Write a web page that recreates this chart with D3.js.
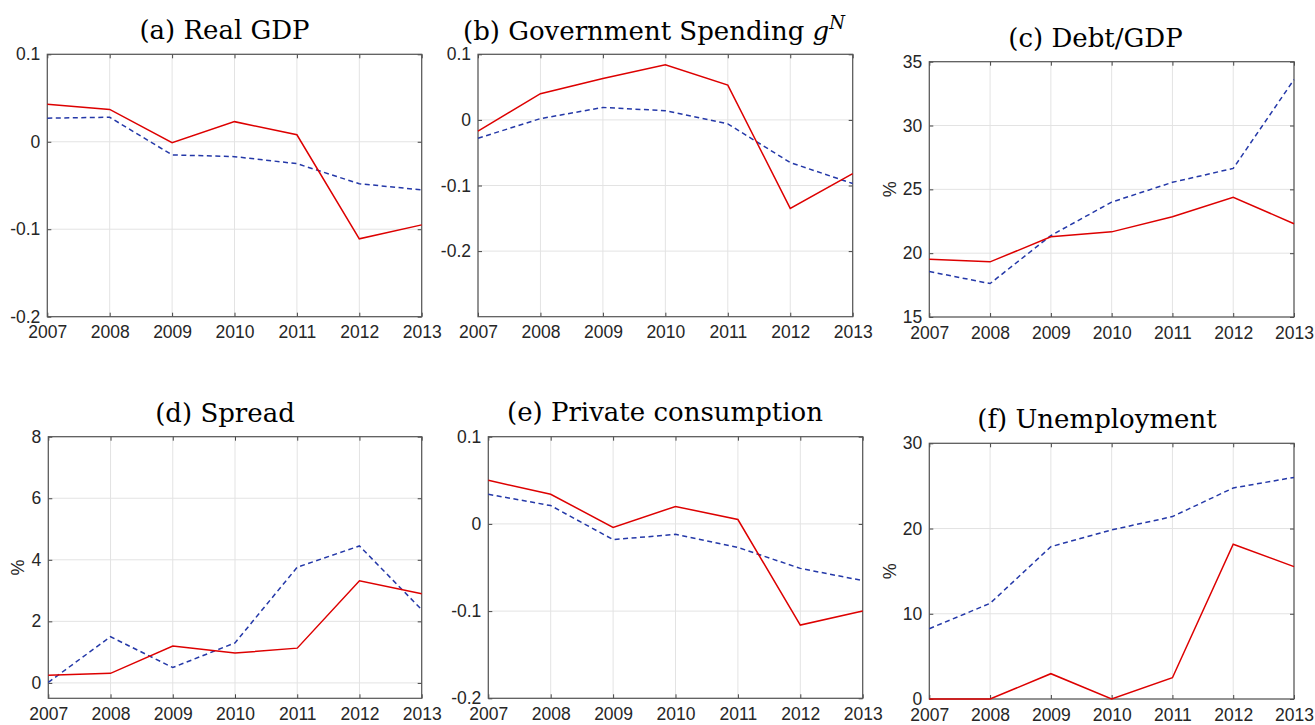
<!DOCTYPE html>
<html>
<head>
<meta charset="utf-8">
<script src="https://cdn.jsdelivr.net/npm/d3@7"></script>
<style>
  body { margin: 0; background: #fff; }
  .tick text { font-family: "Liberation Sans", Arial, sans-serif; font-size: 17.5px; fill: #262626; }
  .ptitle { font-family: "DejaVu Serif", serif; font-size: 26px; fill: #000; }
  .ylab { font-family: "Liberation Sans", Arial, sans-serif; font-size: 18px; fill: #262626; }
</style>
</head>
<body>
<svg id="chart" width="1315" height="725"></svg>
<script>
// years on the x axis
const years = [2007, 2008, 2009, 2010, 2011, 2012, 2013];

// red solid / blue dashed series
const gdpSolid = [0.043, 0.037, -0.001, 0.023, 0.008, -0.111, -0.095];
const gdpDashed = [0.027, 0.028, -0.015, -0.017, -0.025, -0.048, -0.055];

const govSolid = [-0.017, 0.040, 0.063, 0.084, 0.053, -0.135, -0.082];
const govDashed = [-0.028, 0.002, 0.019, 0.014, -0.006, -0.065, -0.097];

const debtSolid = [19.53, 19.32, 21.28, 21.67, 22.85, 24.37, 22.31];
const debtDashed = [18.56, 17.62, 21.38, 24.0, 25.55, 26.64, 33.6];

const spreadSolid = [0.25, 0.31, 1.2, 0.97, 1.13, 3.32, 2.9];
const spreadDashed = [0.02, 1.5, 0.5, 1.3, 3.76, 4.45, 2.38];

const consSolid = [0.050, 0.034, -0.004, 0.020, 0.005, -0.116, -0.100];
const consDashed = [0.034, 0.021, -0.018, -0.012, -0.027, -0.051, -0.065];

const unempSolid = [0, 0, 2.97, 0, 2.5, 18.15, 15.53];
const unempDashed = [8.25, 11.22, 17.87, 19.84, 21.4, 24.76, 26.0];

// tick labels
const tenthTicks = [-0.2, -0.1, 0, 0.1];
const debtTicks = [15, 20, 25, 30, 35];
const spreadTicks = [0, 2, 4, 6, 8];
const unempTicks = [0, 10, 20, 30];

const panels = [
  { title: "(a) Real GDP", box: [47.3, 54.3, 421.7, 316.7], dom: [-0.2, 0.1], ticks: tenthTicks,
    solid: gdpSolid, dashed: gdpDashed, tx: 224.5, ty: 39 },
  { title: "(b) Government Spending ", sup: true, box: [478, 54.3, 852.7, 316.7], dom: [-0.3, 0.1], ticks: tenthTicks,
    solid: govSolid, dashed: govDashed, tx: 654, ty: 40 },
  { title: "(c) Debt/GDP", box: [929.3, 61.7, 1294, 317], dom: [15, 35], ticks: debtTicks,
    solid: debtSolid, dashed: debtDashed, tx: 1095.5, ty: 46.5, ylab: "%", lx: 890 },
  { title: "(d) Spread", box: [48.3, 436.7, 421.7, 698.3], dom: [-0.5, 8], ticks: spreadTicks,
    solid: spreadSolid, dashed: spreadDashed, tx: 225, ty: 421.5, ylab: "%", lx: 18 },
  { title: "(e) Private consumption", box: [488.3, 436.7, 862.7, 698.3], dom: [-0.2, 0.1], ticks: tenthTicks,
    solid: consSolid, dashed: consDashed, tx: 665, ty: 420.5 },
  { title: "(f) Unemployment", box: [929.3, 443.3, 1294, 699], dom: [0, 30], ticks: unempTicks,
    solid: unempSolid, dashed: unempDashed, tx: 1097, ty: 428, ylab: "%", lx: 890 }
];

const svg = d3.select("#chart");
svg.append("rect").attr("width", 1315).attr("height", 725).attr("fill", "#fff");

const fmt = d => String(+d.toFixed(2));

panels.forEach(p => {
  const [x0, y0, x1, y1] = p.box;
  const x = d3.scaleLinear().domain([2007, 2013]).range([x0, x1]);
  const y = d3.scaleLinear().domain(p.dom).range([y1, y0]);
  const g = svg.append("g");

  // grid
  g.append("g").selectAll("line").data(years).join("line")
    .attr("x1", d => x(d)).attr("x2", d => x(d)).attr("y1", y0).attr("y2", y1)
    .attr("stroke", "#e3e3e3").attr("stroke-width", 1);
  g.append("g").selectAll("line").data(p.ticks).join("line")
    .attr("x1", x0).attr("x2", x1).attr("y1", d => y(d)).attr("y2", d => y(d))
    .attr("stroke", "#e3e3e3").attr("stroke-width", 1);

  // axes (ticks point inward)
  const ax = g.append("g").attr("transform", `translate(0,${y1})`)
    .call(d3.axisBottom(x).tickValues(years).tickFormat(d3.format("d")).tickSize(-4).tickPadding(6));
  g.append("g").attr("transform", `translate(${x0},0)`)
    .call(d3.axisLeft(y).tickValues(p.ticks).tickFormat(fmt).tickSize(-4).tickPadding(7));
  g.append("g").attr("transform", `translate(0,${y0})`)
    .call(d3.axisTop(x).tickValues(years).tickFormat("").tickSize(-4));
  g.append("g").attr("transform", `translate(${x1},0)`)
    .call(d3.axisRight(y).tickValues(p.ticks).tickFormat("").tickSize(-4));
  g.selectAll(".domain").remove();
  g.selectAll(".tick line").attr("stroke", "#444");
  ax.selectAll("text").attr("dy", "0.9em");

  g.append("rect").attr("x", x0).attr("y", y0).attr("width", x1 - x0).attr("height", y1 - y0)
    .attr("fill", "none").attr("stroke", "#555").attr("stroke-width", 1.2);

  const line = vals => d3.line().x((d, i) => x(years[i])).y(d => y(d))(vals);

  g.append("path").attr("d", line(p.dashed)).attr("fill", "none")
    .attr("stroke", "#2438a8").attr("stroke-width", 1.5).attr("stroke-dasharray", "5,3.5");
  g.append("path").attr("d", line(p.solid)).attr("fill", "none")
    .attr("stroke", "#dd0000").attr("stroke-width", 1.5);

  const t = svg.append("text").attr("class", "ptitle")
    .attr("x", p.tx).attr("y", p.ty).attr("text-anchor", "middle").text(p.title);
  if (p.sup) {
    t.append("tspan").attr("font-style", "italic").text("g");
    t.append("tspan").attr("font-style", "italic").attr("font-size", "18px").attr("dy", -11).text("N");
  }

  if (p.ylab) {
    svg.append("text").attr("class", "ylab")
      .attr("transform", `translate(${p.lx},${(y0 + y1) / 2}) rotate(-90)`)
      .attr("text-anchor", "middle").attr("dy", "0.35em").text(p.ylab);
  }
});
</script>
</body>
</html>
